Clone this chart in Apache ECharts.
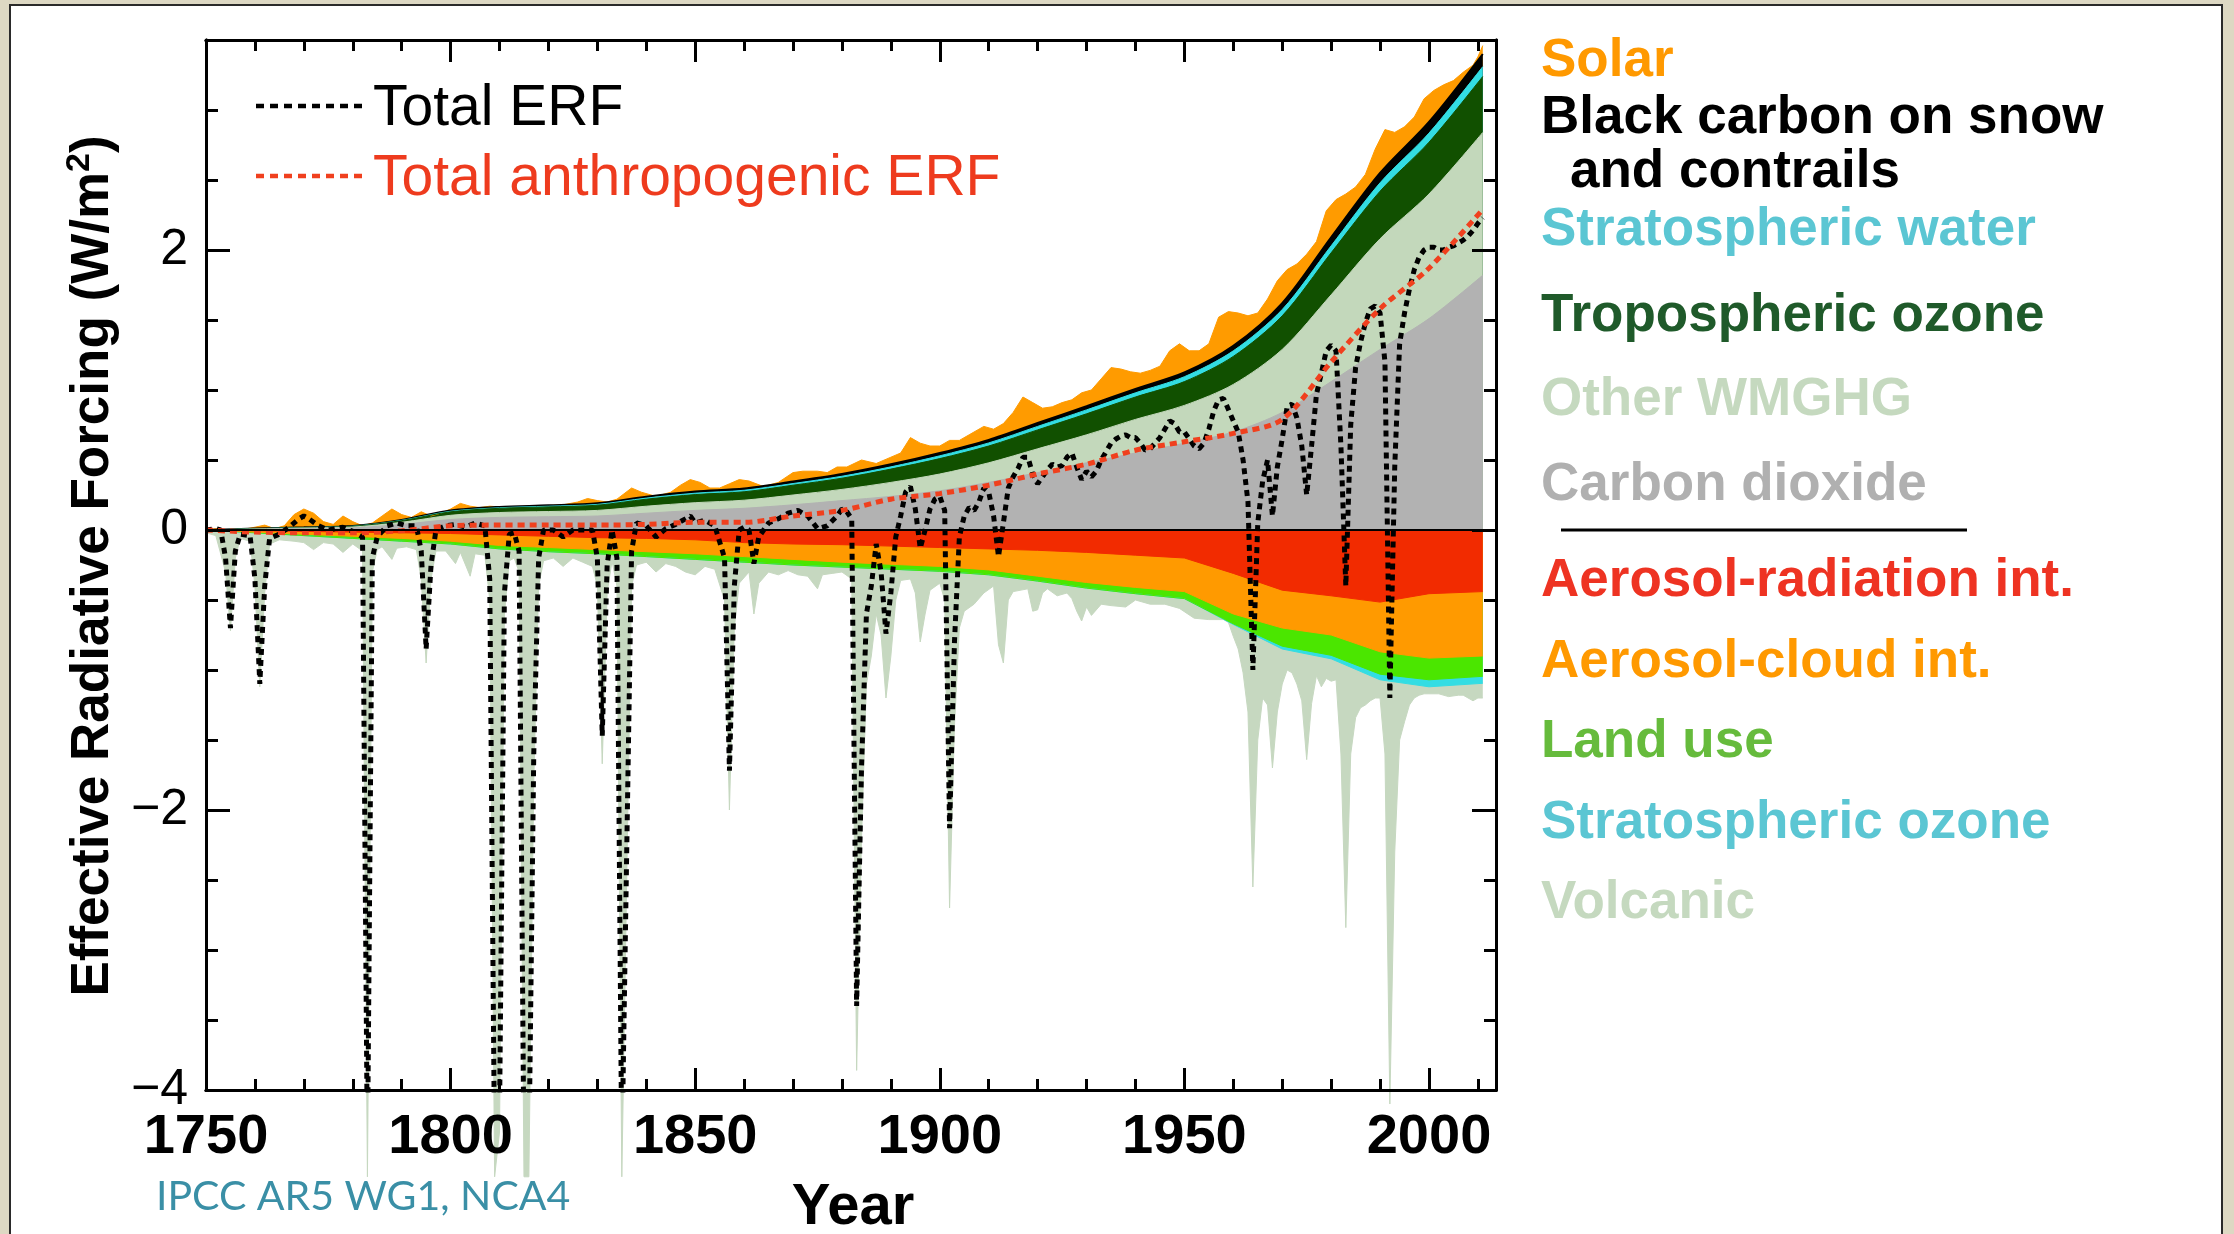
<!DOCTYPE html>
<html><head><meta charset="utf-8">
<script src="https://cdn.jsdelivr.net/npm/echarts@6/dist/echarts.min.js"></script>
<style>html,body{margin:0;padding:0;background:#DDD8C3;}#c{width:2234px;height:1234px;}</style>
</head><body><div id="c"></div>
<script>
// ---------------- DATA (W/m2) ----------------
const years = [1750,1760,1770,1780,1790,1800,1810,1820,1830,1840,1850,1860,1870,1880,1890,1900,1910,1920,1930,1940,1950,1960,1970,1980,1990,2000,2011];
// positive components (stacked)
const co2 = [0,0.005,0.01,0.015,0.04,0.075,0.09,0.095,0.10,0.12,0.14,0.155,0.18,0.21,0.24,0.28,0.34,0.41,0.48,0.55,0.62,0.70,0.84,1.06,1.29,1.51,1.82];
const otherWmghg = [0,0.002,0.004,0.006,0.015,0.03,0.035,0.037,0.04,0.05,0.055,0.058,0.07,0.08,0.10,0.12,0.14,0.17,0.20,0.24,0.27,0.34,0.45,0.62,0.79,0.89,1.02];
const tropOzone = [0,0.002,0.003,0.005,0.012,0.025,0.03,0.033,0.037,0.05,0.058,0.06,0.07,0.08,0.095,0.11,0.12,0.135,0.15,0.16,0.17,0.20,0.24,0.30,0.34,0.37,0.40];
const stratWater = [0,0,0.001,0.001,0.002,0.004,0.004,0.005,0.006,0.008,0.01,0.011,0.012,0.014,0.016,0.02,0.022,0.025,0.028,0.03,0.035,0.04,0.045,0.05,0.06,0.065,0.07];
const bcSnowContrails = [0,0.001,0.001,0.002,0.003,0.005,0.006,0.006,0.008,0.01,0.012,0.012,0.014,0.016,0.018,0.02,0.022,0.024,0.026,0.028,0.03,0.035,0.045,0.06,0.07,0.08,0.09];
// negative components (stacked)
const aerosolRad = [0,-0.005,-0.01,-0.015,-0.02,-0.025,-0.035,-0.045,-0.055,-0.06,-0.07,-0.09,-0.10,-0.105,-0.115,-0.125,-0.135,-0.145,-0.16,-0.18,-0.2,-0.31,-0.43,-0.47,-0.515,-0.455,-0.44];
const aerosolCloud = [0,-0.01,-0.02,-0.03,-0.04,-0.055,-0.075,-0.08,-0.085,-0.095,-0.10,-0.10,-0.11,-0.125,-0.13,-0.135,-0.15,-0.185,-0.215,-0.23,-0.24,-0.29,-0.27,-0.28,-0.355,-0.46,-0.46];
const landUse = [0,-0.005,-0.01,-0.015,-0.02,-0.02,-0.025,-0.03,-0.03,-0.035,-0.04,-0.04,-0.04,-0.035,-0.035,-0.035,-0.035,-0.035,-0.04,-0.045,-0.05,-0.07,-0.13,-0.145,-0.16,-0.155,-0.145];
const stratOzone = [0,0,0,0,0,0,0,0,0,0,0,0,0,0,0,0,0,0,0,0,0,-0.005,-0.02,-0.025,-0.04,-0.05,-0.05];
// total anthropogenic ERF (red dotted)
const totalAnthro = [0,-0.015,-0.02,-0.02,-0.005,0.03,0.035,0.035,0.035,0.04,0.055,0.055,0.1,0.14,0.22,0.26,0.32,0.4,0.47,0.57,0.63,0.69,0.79,1.2,1.58,1.87,2.29];
// upper edge of all positive forcing incl. solar (orange edge) [year, value]
const solarTop = [[1750,0.0],[1752,0.01],[1754,0.0],[1757,0.0],[1760,0.02],[1762,0.035],[1764,0.01],[1766,0.03],[1768,0.11],[1770,0.15],[1772,0.12],[1774,0.06],[1776,0.04],[1778,0.1],[1780,0.06],[1782,0.03],[1784,0.05],[1786,0.1],[1788,0.15],[1790,0.11],[1792,0.09],[1794,0.13],[1796,0.1],[1798,0.12],[1800,0.15],[1802,0.19],[1804,0.17],[1806,0.16],[1808,0.17],[1810,0.165],[1813,0.165],[1816,0.17],[1820,0.175],[1823,0.18],[1826,0.2],[1828,0.225],[1830,0.21],[1832,0.2],[1834,0.22],[1837,0.3],[1839,0.27],[1842,0.24],[1845,0.27],[1847,0.32],[1849,0.36],[1851,0.34],[1853,0.3],[1855,0.3],[1857,0.33],[1859,0.36],[1861,0.35],[1864,0.31],[1867,0.34],[1870,0.41],[1872,0.42],[1875,0.42],[1877,0.41],[1879,0.45],[1881,0.45],[1884,0.5],[1887,0.475],[1890,0.52],[1892,0.55],[1894,0.66],[1896,0.62],[1898,0.6],[1900,0.6],[1902,0.64],[1904,0.64],[1906,0.68],[1909,0.74],[1911,0.72],[1913,0.76],[1915,0.84],[1917,0.95],[1919,0.91],[1921,0.87],[1923,0.88],[1925,0.91],[1927,0.93],[1929,0.98],[1931,1.0],[1933,1.08],[1935,1.16],[1937,1.15],[1939,1.13],[1941,1.12],[1943,1.14],[1945,1.17],[1947,1.28],[1949,1.33],[1951,1.28],[1953,1.28],[1955,1.33],[1957,1.52],[1959,1.56],[1961,1.55],[1963,1.53],[1965,1.55],[1967,1.65],[1969,1.78],[1971,1.86],[1973,1.9],[1975,1.97],[1977,2.06],[1979,2.28],[1981,2.36],[1983,2.4],[1985,2.45],[1987,2.54],[1989,2.72],[1991,2.86],[1993,2.84],[1995,2.88],[1997,2.95],[1999,3.08],[2001,3.14],[2003,3.18],[2005,3.21],[2007,3.27],[2009,3.32],[2010,3.38],[2011,3.46]];
// lower edge of all negative forcing incl. volcanic (volcanic edge) [year, value]
const volcanicBottom = [[1750,-0.02],[1752,-0.04],[1754,-0.3],[1755,-0.72],[1756,-0.2],[1757,-0.06],[1759,-0.08],[1760,-0.4],[1761,-1.12],[1762,-0.45],[1763,-0.1],[1765,-0.07],[1768,-0.08],[1770,-0.09],[1772,-0.14],[1774,-0.09],[1776,-0.1],[1778,-0.16],[1780,-0.1],[1782,-0.15],[1783,-4.62],[1784,-0.3],[1785,-0.14],[1786,-0.12],[1788,-0.21],[1789,-0.13],[1791,-0.12],[1793,-0.14],[1794,-0.35],[1795,-0.95],[1796,-0.35],[1797,-0.15],[1799,-0.15],[1801,-0.24],[1802,-0.16],[1804,-0.33],[1805,-0.17],[1807,-0.18],[1808,-0.5],[1809,-4.62],[1810,-4.3],[1811,-0.6],[1812,-0.22],[1813,-0.2],[1814,-0.3],[1815,-4.62],[1816,-4.62],[1817,-1.8],[1818,-0.4],[1819,-0.22],[1821,-0.2],[1823,-0.26],[1825,-0.2],[1827,-0.23],[1829,-0.26],[1830,-0.4],[1831,-1.67],[1832,-0.45],[1833,-0.22],[1834,-0.4],[1835,-4.62],[1836,-2.5],[1837,-0.4],[1838,-0.25],[1840,-0.23],[1842,-0.3],[1844,-0.24],[1846,-0.26],[1848,-0.3],[1850,-0.32],[1852,-0.26],[1854,-0.28],[1856,-0.5],[1857,-2.0],[1858,-0.7],[1859,-0.38],[1861,-0.3],[1862,-0.6],[1863,-0.38],[1865,-0.3],[1867,-0.32],[1869,-0.29],[1871,-0.32],[1873,-0.33],[1875,-0.42],[1876,-0.32],[1878,-0.31],[1880,-0.3],[1882,-0.35],[1883,-3.86],[1884,-2.2],[1885,-1.1],[1886,-0.9],[1887,-0.6],[1888,-0.75],[1889,-1.2],[1890,-0.9],[1891,-0.5],[1892,-0.36],[1894,-0.35],[1895,-0.45],[1896,-0.8],[1897,-0.6],[1898,-0.43],[1900,-0.38],[1901,-0.5],[1902,-2.7],[1903,-1.4],[1904,-0.7],[1905,-0.58],[1907,-0.53],[1909,-0.45],[1911,-0.4],[1912,-0.82],[1913,-0.95],[1914,-0.5],[1915,-0.44],[1918,-0.42],[1919,-0.58],[1920,-0.57],[1921,-0.45],[1922,-0.42],[1924,-0.47],[1926,-0.45],[1927,-0.49],[1928,-0.58],[1929,-0.65],[1930,-0.55],[1931,-0.61],[1933,-0.53],[1935,-0.54],[1938,-0.55],[1940,-0.5],[1943,-0.53],[1946,-0.53],[1949,-0.56],[1952,-0.63],[1955,-0.64],[1958,-0.64],[1959,-0.66],[1960,-0.76],[1961,-0.85],[1962,-1.02],[1963,-1.3],[1964,-2.55],[1965,-1.5],[1966,-1.2],[1967,-1.25],[1968,-1.7],[1969,-1.3],[1970,-1.1],[1971,-1.0],[1972,-1.02],[1973,-1.1],[1974,-1.22],[1975,-1.64],[1976,-1.24],[1977,-1.04],[1978,-1.12],[1979,-1.06],[1980,-1.08],[1981,-1.07],[1982,-1.6],[1983,-2.84],[1984,-1.6],[1985,-1.34],[1986,-1.27],[1987,-1.25],[1988,-1.22],[1989,-1.2],[1990,-1.2],[1991,-1.6],[1992,-4.1],[1993,-2.3],[1994,-1.5],[1995,-1.37],[1996,-1.25],[1997,-1.2],[1998,-1.18],[1999,-1.17],[2000,-1.17],[2002,-1.17],[2004,-1.19],[2006,-1.18],[2007,-1.18],[2009,-1.22],[2010,-1.2],[2011,-1.2]];
// total ERF (black dotted) [year, value]
const totalErf = [[1750,0.0],[1752,0.01],[1753,0.0],[1754,-0.2],[1755,-0.7],[1756,-0.15],[1757,-0.03],[1759,-0.04],[1760,-0.35],[1761,-1.1],[1762,-0.4],[1763,-0.06],[1765,-0.03],[1767,0.02],[1769,0.08],[1770,0.1],[1771,0.08],[1773,0.03],[1775,0.0],[1778,0.02],[1780,-0.01],[1782,-0.05],[1783,-4.5],[1784,-0.2],[1785,-0.05],[1787,0.03],[1789,0.05],[1791,0.03],[1793,0.03],[1794,-0.15],[1795,-0.85],[1796,-0.25],[1797,0.0],[1799,0.03],[1801,0.04],[1803,0.02],[1805,0.05],[1807,0.03],[1808,-0.35],[1809,-4.5],[1810,-4.2],[1811,-0.45],[1812,-0.03],[1813,-0.02],[1814,-0.15],[1815,-4.5],[1816,-4.5],[1817,-1.6],[1818,-0.2],[1819,0.0],[1821,0.0],[1823,-0.05],[1825,0.0],[1827,0.0],[1829,0.0],[1830,-0.2],[1831,-1.47],[1832,-0.25],[1833,0.0],[1834,-0.2],[1835,-4.5],[1836,-2.3],[1837,-0.15],[1838,0.05],[1840,0.03],[1842,-0.05],[1844,0.01],[1846,0.04],[1848,0.08],[1849,0.1],[1850,0.05],[1852,0.07],[1854,0.03],[1856,-0.2],[1857,-1.72],[1858,-0.4],[1859,0.0],[1860,0.02],[1861,0.0],[1862,-0.24],[1863,-0.05],[1865,0.05],[1867,0.08],[1869,0.12],[1871,0.14],[1873,0.1],[1875,0.01],[1877,0.03],[1879,0.1],[1880,0.15],[1881,0.13],[1882,0.08],[1883,-3.4],[1884,-1.7],[1885,-0.6],[1886,-0.4],[1887,-0.1],[1888,-0.3],[1889,-0.74],[1890,-0.45],[1891,-0.05],[1892,0.1],[1893,0.27],[1894,0.31],[1895,0.15],[1896,-0.13],[1897,0.0],[1898,0.15],[1899,0.22],[1900,0.24],[1901,0.14],[1902,-2.13],[1903,-0.8],[1904,-0.05],[1905,0.1],[1906,0.16],[1907,0.14],[1908,0.2],[1909,0.3],[1910,0.27],[1911,0.1],[1912,-0.19],[1913,0.05],[1914,0.3],[1915,0.38],[1916,0.44],[1917,0.52],[1918,0.52],[1919,0.4],[1920,0.33],[1921,0.38],[1922,0.43],[1923,0.47],[1924,0.45],[1925,0.46],[1926,0.52],[1927,0.55],[1928,0.45],[1929,0.36],[1930,0.42],[1931,0.38],[1932,0.42],[1933,0.5],[1934,0.56],[1935,0.62],[1936,0.65],[1937,0.67],[1938,0.68],[1939,0.66],[1940,0.66],[1941,0.62],[1942,0.57],[1943,0.58],[1944,0.62],[1945,0.66],[1946,0.72],[1947,0.78],[1948,0.76],[1949,0.7],[1950,0.7],[1951,0.65],[1952,0.6],[1953,0.58],[1954,0.62],[1955,0.72],[1956,0.85],[1957,0.93],[1958,0.94],[1959,0.86],[1960,0.78],[1961,0.7],[1962,0.5],[1963,0.2],[1964,-1.0],[1965,0.05],[1966,0.35],[1967,0.5],[1968,0.1],[1969,0.45],[1970,0.65],[1971,0.88],[1972,0.9],[1973,0.8],[1974,0.6],[1975,0.25],[1976,0.6],[1977,0.97],[1978,1.12],[1979,1.28],[1980,1.32],[1981,1.28],[1982,0.6],[1983,-0.4],[1984,0.75],[1985,1.16],[1986,1.34],[1987,1.48],[1988,1.58],[1989,1.6],[1990,1.55],[1991,1.2],[1992,-1.2],[1993,0.45],[1994,1.33],[1995,1.55],[1996,1.72],[1997,1.86],[1998,1.95],[1999,2.0],[2000,2.02],[2001,2.02],[2002,2.0],[2003,2.0],[2004,2.02],[2005,2.03],[2006,2.05],[2007,2.07],[2008,2.1],[2009,2.14],[2010,2.19],[2011,2.23]];
const xTickLabels = [1750,1800,1850,1900,1950,2000];
const yTickLabels = {'-4':'\u22124','-2':'\u22122','0':'0','2':'2'};

// ---------------- CHART ----------------
const FONT = '"Liberation Sans", Arial, Helvetica, sans-serif';
// running sums of the component arrays on the common year grid (layer edges)
const edge = (arrs) => years.map((y, i) => [y, arrs.reduce((s, a) => s + a[i], 0)]);
const C = {
  solar:'#FF9B00', bc:'#000000', water:'#33DDE3', trop:'#115000', wmghg:'#C3D8BB', co2:'#B2B2B2',
  aerRad:'#F22B00', aerCloud:'#FF9A00', land:'#4BE600', sOzone:'#33DDE3', volc:'#C6D8C0'
};
function band(name, data, color, extra) {
  return Object.assign({
    name, type:'line', data, symbol:'none', showSymbol:false, silent:true,
    smooth:false, lineStyle:{width:1, color}, areaStyle:{color, opacity:1, origin:0},
    emphasis:{disabled:true}, z:2
  }, extra || {});
}
function xAx(pos, interval, len, labels) {
  return {type:'value', position:pos, min:1750, max:2013.7, interval, gridIndex:0,
    axisLine:{show:true, onZero:false, lineStyle:{color:'#000', width:3}},
    axisTick:{show:true, inside:true, length:len, lineStyle:{color:'#000', width:3}},
    axisLabel: labels ? {show:true, margin:20, fontSize:56, fontWeight:'bold', fontFamily:FONT, color:'#000',
      formatter: v => (xTickLabels.indexOf(v) >= 0 ? String(v) : '')} : {show:false},
    splitLine:{show:false}, minorTick:{show:false}, z:5};
}
function yAx(pos, interval, len, labels) {
  return {type:'value', position:pos, min:-4, max:3.5, interval, gridIndex:0,
    axisLine:{show:true, onZero:false, lineStyle:{color:'#000', width:3}},
    axisTick:{show:true, inside:true, length:len, lineStyle:{color:'#000', width:3}},
    axisLabel: labels ? {show:true, margin:18, fontSize:50, fontFamily:FONT, color:'#000',
      formatter: v => (yTickLabels[String(v)] || '')} : {show:false},
    splitLine:{show:false}, minorTick:{show:false}, z:5};
}
const T = (text, x, y, color, font) => ({type:'text', x, y, z:100, silent:true,
  style:{text, fill:color, font:font || ('bold 53px ' + FONT), textAlign:'left', textVerticalAlign:'middle'}});

const sm = {smooth:0.3};
const option = {
  animation:false,
  backgroundColor:'#DDD8C3',
  grid:{left:206, right:738, top:40, bottom:144, containLabel:false, outerBoundsMode:'none'},
  xAxis:[xAx('bottom',10,11,false), xAx('bottom',50,22,true), xAx('top',10,11,false), xAx('top',50,22,false)],
  yAxis:[yAx('left',0.5,12,false), yAx('left',2,24,true), yAx('right',0.5,12,false), yAx('right',2,24,false)],
  series:[
    // positive layers, outermost first so inner layers paint over
    band('Solar', solarTop, C.solar),
    band('Black carbon on snow and contrails', edge([co2,otherWmghg,tropOzone,stratWater,bcSnowContrails]), C.bc,
      {smooth:0.3, lineStyle:{width:2, color:'#000'}}),
    band('Stratospheric water', edge([co2,otherWmghg,tropOzone,stratWater]), C.water, sm),
    band('Tropospheric ozone', edge([co2,otherWmghg,tropOzone]), C.trop, sm),
    band('Other WMGHG', edge([co2,otherWmghg]), C.wmghg, sm),
    band('Carbon dioxide', edge([co2]), C.co2, sm),
    // negative layers, outermost first
    band('Volcanic', volcanicBottom, C.volc, {clip:false}),
    band('Stratospheric ozone', edge([aerosolRad,aerosolCloud,landUse,stratOzone]), C.sOzone),
    band('Land use', edge([aerosolRad,aerosolCloud,landUse]), C.land),
    band('Aerosol-cloud int.', edge([aerosolRad,aerosolCloud]), C.aerCloud),
    band('Aerosol-radiation int.', edge([aerosolRad]), C.aerRad, {
      markLine:{silent:true, symbol:'none', label:{show:false}, animation:false,
        lineStyle:{color:'#000', width:2, type:'solid'}, data:[{yAxis:0}]}
    }),
    {name:'Total ERF', type:'line', data:totalErf, symbol:'none', silent:true, z:4,
      lineStyle:{color:'#000', width:5, type:[6,5], cap:'butt'}, emphasis:{disabled:true}},
    {name:'Total anthropogenic ERF', type:'line', data:years.map((y,i)=>[y,totalAnthro[i]]), symbol:'none', silent:true, z:4, smooth:0.3,
      lineStyle:{color:'#F0401E', width:5, type:[7,5], cap:'butt'}, emphasis:{disabled:true}}
  ],
  graphic:[
    {type:'rect', z:-10, silent:true, shape:{x:10, y:5, width:2212, height:1250},
      style:{fill:'#FFFFFF', stroke:'#2A2A2A', lineWidth:2}},
    // in-plot legend
    {type:'line', z:100, silent:true, shape:{x1:256,y1:106,x2:363,y2:106}, style:{stroke:'#000', lineWidth:4.5, lineDash:[8,6]}},
    {type:'line', z:100, silent:true, shape:{x1:256,y1:176,x2:363,y2:176}, style:{stroke:'#F0401E', lineWidth:4.5, lineDash:[8,6]}},
    T('Total ERF', 373, 109, '#000', '57px ' + FONT),
    T('Total anthropogenic ERF', 373, 179, '#EE3B1E', '57px ' + FONT),
    // right legend
    T('Solar', 1541, 61, '#FF9900'),
    T('Black carbon on snow', 1541, 118, '#000000'),
    T('and contrails', 1570, 172, '#000000'),
    T('Stratospheric water', 1541, 230, '#5BC6D3'),
    T('Tropospheric ozone', 1541, 316, '#1F5A2A'),
    T('Other WMGHG', 1541, 400, '#C5D9BF'),
    T('Carbon dioxide', 1541, 485, '#B0B0B0'),
    {type:'line', z:100, silent:true, shape:{x1:1561,y1:530,x2:1967,y2:530}, style:{stroke:'#000', lineWidth:3}},
    T('Aerosol-radiation int.', 1541, 581, '#EE3322'),
    T('Aerosol-cloud int.', 1541, 662, '#FF9900'),
    T('Land use', 1541, 742, '#66BB3C'),
    T('Stratospheric ozone', 1541, 823, '#5BC6D3'),
    T('Volcanic', 1541, 903, '#C5D9BF'),
    // axis titles
    {type:'text', z:100, silent:true, x:93, y:566, rotation:Math.PI/2,
      style:{text:'{a|Effective Radiative Forcing (W/m}{s|2}{a|)}', textAlign:'center', textVerticalAlign:'middle',
        rich:{a:{fontSize:53, fontWeight:'bold', fontFamily:FONT, fill:'#000', lineHeight:60},
              s:{fontSize:34, fontWeight:'bold', fontFamily:FONT, fill:'#000', verticalAlign:'top', lineHeight:34}}}},
    {type:'text', z:100, silent:true, x:853, y:1208,
      style:{text:'Year', fill:'#000', font:'bold 58px ' + FONT, textAlign:'center', textVerticalAlign:'middle'}},
    {type:'text', z:100, silent:true, x:156, y:1197,
      style:{text:'IPCC AR5 WG1, NCA4', fill:'#3A8FA6', font:'41px Lato, "Open Sans", sans-serif', textAlign:'left', textVerticalAlign:'middle'}}
  ]
};
const chart = echarts.init(document.getElementById('c'), null, {renderer:'canvas', width:2234, height:1234});
chart.setOption(option);
</script>
</body></html>
